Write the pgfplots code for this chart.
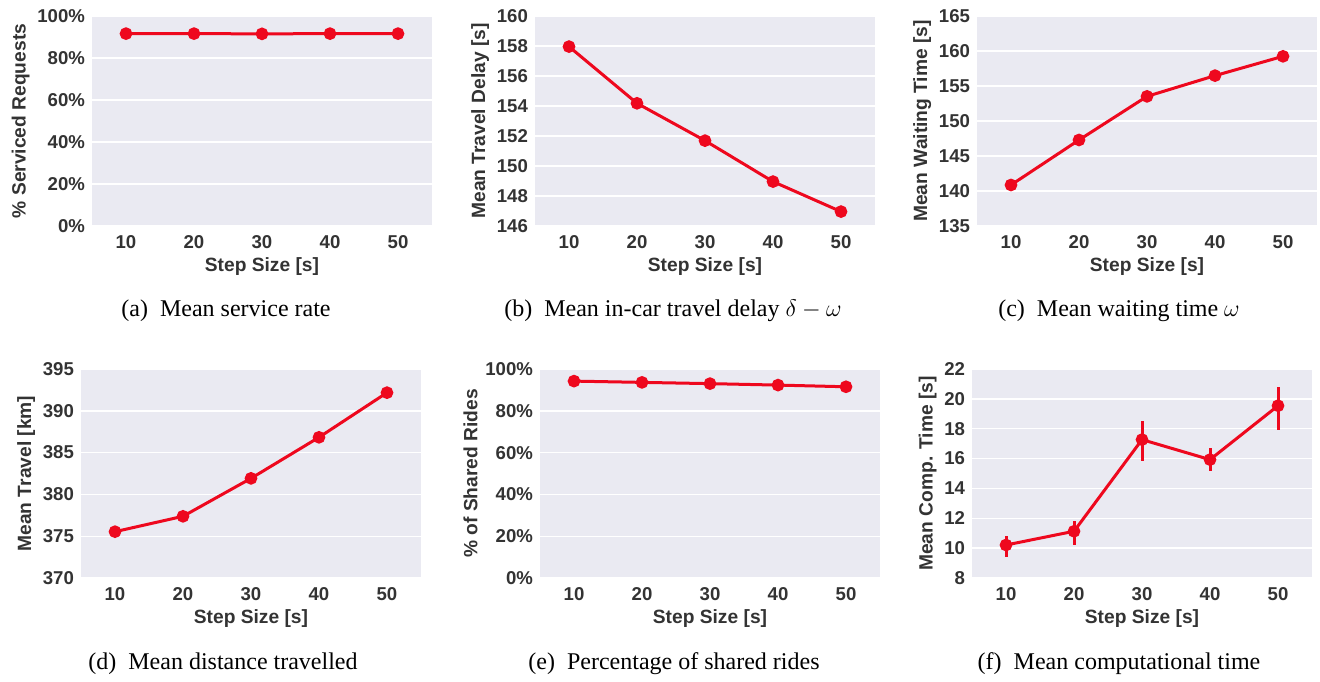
\documentclass[border=0pt]{standalone}
\usepackage{pgfplots}
\pgfplotsset{compat=1.18}
\usepackage{fontspec}
\setmainfont{Liberation Serif}
\newfontfamily\arialfont{Liberation Sans}
\definecolor{bgc}{RGB}{234,234,242}
\definecolor{linec}{RGB}{238,8,30}
\definecolor{txt}{RGB}{51,51,51}

\pgfplotsset{
  sns/.style={
    scale only axis,
    width=170pt, height=105pt,
    axis background/.style={fill=bgc},
    axis line style={draw=none},
    major tick length=0pt,
    ymajorgrids=true,
    grid style={white, line width=0.7pt},
    xmin=5, xmax=55,
    xtick={10,20,30,40,50},
    tick label style={font=\arialfont\bfseries\fontsize{9.3}{10}\selectfont, text=txt},
    label style={font=\arialfont\bfseries\fontsize{9.6}{10}\selectfont, text=txt},
    /pgf/number format/assume math mode=true,
    xlabel={Step Size [s]},
    xticklabel style={yshift=-1pt},
    xlabel style={yshift=2pt},
    ylabel style={yshift=-3pt},
    clip=false,
  },
  redline/.style={color=linec, line width=1.5pt, mark=*, mark size=2.4pt,
    mark options={fill=linec, draw=linec}},
}

\begin{document}
\begin{tikzpicture}
\path (0,0) rectangle (660pt,340.5pt);
\tikzset{subcap/.style={font=\fontsize{12}{14}\selectfont, anchor=center}}

% (a)
\begin{axis}[sns, at={(46pt,227.5pt)}, anchor=south west,
  ymin=0, ymax=100, ytick={0,20,40,60,80,100},
  yticklabels={0\%,20\%,40\%,60\%,80\%,100\%},
  ylabel={\% Serviced Requests}]
\addplot[redline] coordinates {(10,91.6) (20,91.6) (30,91.5) (40,91.6) (50,91.6)};
\end{axis}

% (b)
\begin{axis}[sns, at={(267.5pt,227.5pt)}, anchor=south west,
  ymin=146, ymax=160, ytick={146,148,...,160},
  ylabel={Mean Travel Delay [s]}]
\addplot[redline] coordinates {(10,157.96) (20,154.18) (30,151.69) (40,148.96) (50,146.96)};
\end{axis}

% (c)
\begin{axis}[sns, at={(488.5pt,227.5pt)}, anchor=south west,
  ymin=135, ymax=165, ytick={135,140,...,165},
  ylabel={Mean Waiting Time [s]}]
\addplot[redline] coordinates {(10,140.86) (20,147.29) (30,153.52) (40,156.48) (50,159.24)};
\end{axis}

% (d)
\begin{axis}[sns, at={(40.5pt,51.5pt)}, anchor=south west, height=104.5pt,
  ymin=370, ymax=395, ytick={370,375,...,395},
  ylabel={Mean Travel [km]}]
\addplot[redline] coordinates {(10,375.54) (20,377.38) (30,381.92) (40,386.83) (50,392.17)};
\end{axis}

% (e)
\begin{axis}[sns, at={(270pt,51.5pt)}, anchor=south west, height=104.5pt,
  ymin=0, ymax=100, ytick={0,20,40,60,80,100},
  yticklabels={0\%,20\%,40\%,60\%,80\%,100\%},
  ylabel={\% of Shared Rides}]
\addplot[redline] coordinates {(10,94.2) (20,93.6) (30,93.0) (40,92.3) (50,91.5)};
\end{axis}

% (f)
\begin{axis}[sns, at={(486pt,51.5pt)}, anchor=south west, height=104.5pt,
  ymin=8, ymax=22, ytick={8,10,...,22},
  ylabel={Mean Comp. Time [s]}]
\addplot[redline, error bars/.cd, y dir=both, y explicit,
  error mark=none, error bar style={line width=1.5pt, color=linec}]
  coordinates {
  (10,10.21) += (0,0.62) -= (0,0.83)
  (20,11.13) += (0,0.67) -= (0,0.89)
  (30,17.27) += (0,1.23) -= (0,1.45)
  (40,15.93) += (0,0.78) -= (0,0.78)
  (50,19.54) += (0,1.25) -= (0,1.60)
  };
\end{axis}

\node[subcap] at (113pt,185pt) {(a)\ \ Mean service rate};
\node[subcap] at (336.5pt,185pt) {(b)\ \ Mean in-car travel delay $\delta-\omega$};
\node[subcap] at (559.5pt,185pt) {(c)\ \ Mean waiting time $\omega$};
\node[subcap] at (111.5pt,8.5pt) {(d)\ \ Mean distance travelled};
\node[subcap] at (337pt,8.5pt) {(e)\ \ Percentage of shared rides};
\node[subcap] at (559.5pt,8.5pt) {(f)\ \ Mean computational time};
\end{tikzpicture}
\end{document}
